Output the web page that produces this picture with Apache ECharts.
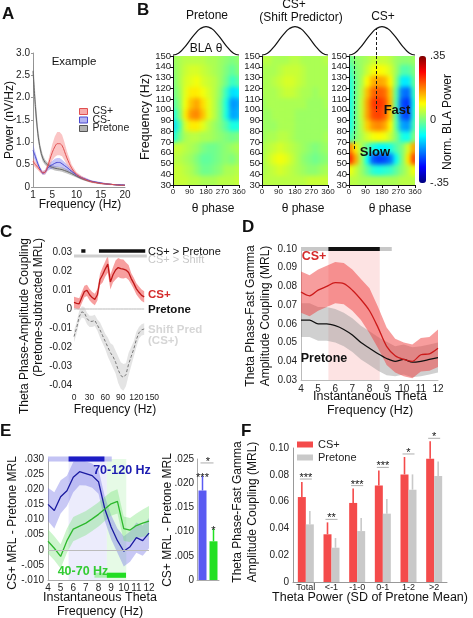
<!DOCTYPE html>
<html><head><meta charset="utf-8">
<script src="https://cdn.jsdelivr.net/npm/echarts@6.0.0/dist/echarts.min.js"></script>
<style>html,body{margin:0;padding:0;background:#fff;}
#wrap{position:relative;width:473px;height:618px;}
#heat,#chart{position:absolute;left:0;top:0;width:473px;height:618px;}
#heat{z-index:0;} #chart{z-index:1;}
.clip{position:absolute;overflow:hidden;}
.blur{position:absolute;}
</style>
</head><body><div id="wrap"><div id="heat"></div><div id="chart"></div></div>
<script>
const FONT = "'Liberation Sans', Arial, sans-serif";

// ---------------- Panel A: power spectra ----------------
const aFreq       = [1,1.5,2,2.5,3,3.5,4,4.5,5,5.5,6,6.5,7,7.5,8,9,10,11,12,13,14,15,16,17,18,19,20];
const aCSplus     = [0.58,0.50,0.44,0.37,0.32,0.33,0.45,0.62,0.78,0.90,0.97,0.97,0.93,0.80,0.65,0.42,0.28,0.21,0.16,0.12,0.10,0.08,0.07,0.06,0.05,0.04,0.04];
const aCSplusErr  = [0.08,0.07,0.06,0.05,0.04,0.05,0.08,0.13,0.18,0.23,0.26,0.26,0.24,0.20,0.15,0.08,0.05,0.04,0.03,0.03,0.02,0.02,0.02,0.02,0.01,0.01,0.01];
const aCSminus    = [0.82,0.68,0.52,0.40,0.31,0.33,0.42,0.47,0.50,0.53,0.55,0.55,0.52,0.48,0.44,0.35,0.27,0.21,0.17,0.13,0.11,0.09,0.07,0.06,0.05,0.05,0.04];
const aCSminusErr = [0.15,0.10,0.07,0.05,0.04,0.05,0.06,0.08,0.09,0.10,0.10,0.10,0.09,0.08,0.07,0.05,0.04,0.03,0.03,0.02,0.02,0.02,0.02,0.01,0.01,0.01,0.01];
const aPretone    = [2.60,1.80,1.20,0.85,0.65,0.55,0.50,0.46,0.44,0.42,0.41,0.40,0.39,0.37,0.35,0.30,0.24,0.19,0.15,0.12,0.10,0.08,0.07,0.06,0.05,0.04,0.04];
const aPretoneErr = [0.30,0.25,0.15,0.10,0.08,0.06,0.05,0.05,0.05,0.05,0.05,0.05,0.05,0.05,0.05,0.04,0.03,0.03,0.02,0.02,0.02,0.02,0.01,0.01,0.01,0.01,0.01];
const aXTicks     = [1,5,10,15,20];

// ---------------- Panel B: phase x frequency maps ----------------
const bPhaseBins = [15,45,75,105,135,165,195,225,255,285,315,345];
const bFreqRows  = [145,135,125,115,105,95,85,75,65,55,45,35]; // top to bottom
const bPretoneMap = [
  [0.02,0.03,0.04,0.04,0.04,0.04,0.03,0.03,0.02,0.01,0.00,0.01],
  [0.01,0.03,0.05,0.06,0.06,0.05,0.04,0.03,0.02,0.00,-0.02,0.00],
  [0.00,0.03,0.06,0.07,0.08,0.06,0.05,0.04,0.02,-0.01,-0.05,-0.03],
  [-0.01,0.02,0.07,0.10,0.10,0.08,0.06,0.04,0.01,-0.05,-0.11,-0.10],
  [-0.03,0.01,0.08,0.13,0.15,0.11,0.07,0.04,0.00,-0.07,-0.16,-0.15],
  [-0.07,0.00,0.10,0.16,0.17,0.13,0.07,0.04,0.00,-0.07,-0.15,-0.14],
  [-0.11,-0.04,0.06,0.10,0.10,0.07,0.04,0.02,0.00,-0.03,-0.07,-0.07],
  [-0.07,-0.01,0.03,0.04,0.04,0.03,0.03,0.02,0.01,0.00,-0.01,0.00],
  [0.05,0.05,0.04,0.03,0.02,0.00,-0.01,-0.01,0.00,0.01,0.02,0.03],
  [0.04,0.04,0.03,0.02,0.00,-0.02,-0.02,-0.01,0.00,0.01,0.00,0.02],
  [0.05,0.05,0.04,0.03,0.01,-0.01,-0.01,0.00,0.01,0.03,0.03,0.04],
  [0.05,0.05,0.05,0.04,0.04,0.03,0.03,0.03,0.04,0.04,0.04,0.05]
];
const bShiftMap = [
  [0.04,0.04,0.03,0.03,0.03,0.04,0.04,0.03,0.03,0.03,0.03,0.04],
  [0.03,0.03,0.03,0.04,0.05,0.05,0.05,0.04,0.03,0.03,0.03,0.03],
  [0.03,0.03,0.04,0.05,0.06,0.06,0.05,0.04,0.03,0.03,0.03,0.03],
  [0.03,0.03,0.03,0.04,0.05,0.05,0.04,0.03,0.03,0.02,0.03,0.03],
  [0.02,0.03,0.03,0.03,0.03,0.03,0.03,0.03,0.02,0.02,0.02,0.03],
  [0.02,0.02,0.03,0.03,0.03,0.03,0.02,0.02,0.02,0.02,0.02,0.02],
  [0.02,0.02,0.02,0.03,0.03,0.03,0.02,0.02,0.02,0.02,0.02,0.02],
  [0.02,0.03,0.03,0.04,0.04,0.03,0.02,0.02,0.02,0.02,0.02,0.03],
  [0.03,0.04,0.05,0.06,0.05,0.04,0.03,0.02,0.01,0.00,0.01,0.02],
  [0.03,0.05,0.07,0.08,0.07,0.05,0.03,0.01,0.00,-0.01,0.00,0.01],
  [0.03,0.04,0.05,0.06,0.05,0.04,0.03,0.02,0.01,0.01,0.02,0.03],
  [0.04,0.04,0.04,0.04,0.04,0.04,0.04,0.04,0.05,0.05,0.05,0.05]
];
const bCSplusMap = [
  [-0.02,0.01,0.02,0.03,0.05,0.05,0.05,0.04,0.02,0.01,0.01,0.02],
  [-0.05,0.00,0.02,0.05,0.08,0.09,0.08,0.06,0.02,-0.03,-0.03,0.00],
  [-0.07,-0.01,0.03,0.09,0.14,0.15,0.14,0.09,0.00,-0.10,-0.10,-0.02],
  [-0.08,-0.01,0.04,0.13,0.19,0.20,0.19,0.12,-0.03,-0.18,-0.19,-0.05],
  [-0.08,-0.01,0.05,0.15,0.22,0.23,0.21,0.13,-0.04,-0.21,-0.23,-0.07],
  [-0.08,-0.01,0.05,0.15,0.21,0.22,0.20,0.12,-0.04,-0.20,-0.22,-0.06],
  [-0.08,-0.01,0.04,0.12,0.16,0.17,0.15,0.09,-0.03,-0.15,-0.16,-0.04],
  [-0.05,0.00,0.03,0.06,0.08,0.09,0.08,0.05,0.00,-0.07,-0.08,0.00],
  [0.18,0.10,0.03,-0.02,-0.07,-0.09,-0.09,-0.07,-0.03,0.00,0.06,0.15],
  [0.24,0.15,0.03,-0.08,-0.20,-0.22,-0.21,-0.18,-0.08,0.00,0.10,0.22],
  [0.08,0.05,0.02,-0.02,-0.06,-0.07,-0.06,-0.05,-0.02,0.01,0.04,0.08],
  [0.04,0.04,0.03,0.03,0.03,0.03,0.03,0.03,0.03,0.04,0.04,0.04]
];
const bThetaPhase = [0,30,60,90,120,150,180,210,240,270,300,330,360];
const bThetaWave  = [-1,-0.87,-0.5,0,0.5,0.87,1,0.87,0.5,0,-0.5,-0.87,-1];
const bDashPhase   = [30,150];
const bDashEndFreq = [62,98];
const cbTicks = [-0.35,0,0.35];

// ---------------- Panel C ----------------
const cFreq      = [0,5,10,15,20,25,30,35,40,45,50,55,60,65,70,75,80,85,90,95,100,105,110,115,120,125,130,135];
const cCSplus    = [0.0035,0.0030,0.0027,0.0060,0.0092,0.0098,0.0075,0.0060,0.0050,0.0075,0.0155,0.0180,0.0210,0.0236,0.0142,0.0180,0.0205,0.0218,0.0212,0.0210,0.0205,0.0192,0.0160,0.0135,0.0106,0.0088,0.0072,0.0064];
const cCSplusErr = [0.003,0.003,0.003,0.003,0.003,0.003,0.003,0.003,0.003,0.003,0.003,0.004,0.004,0.0045,0.004,0.004,0.005,0.005,0.005,0.005,0.004,0.004,0.003,0.003,0.003,0.003,0.003,0.003];
const cShift     = [-0.0145,-0.0100,-0.0040,-0.0015,-0.0020,-0.0050,-0.0065,-0.0065,-0.0060,-0.0085,-0.0110,-0.0140,-0.0170,-0.0200,-0.0230,-0.0250,-0.0280,-0.0320,-0.0350,-0.0360,-0.0345,-0.0290,-0.0250,-0.0210,-0.0160,-0.0125,-0.0110,-0.0105];
const cShiftErr  = [0.003,0.003,0.003,0.003,0.003,0.003,0.003,0.003,0.003,0.003,0.004,0.004,0.004,0.005,0.005,0.006,0.006,0.007,0.007,0.007,0.006,0.006,0.005,0.004,0.004,0.003,0.003,0.003];
const cPretone   = [0,0,0,0,0,0,0,0,0,0,0,0,0,0,0,0,0,0,0,0,0,0,0,0,0,0,0,0];
const cSigPretone = [[14,22],[48,137]];
const cSigShift   = [[0,140]];
const cXTicks = [0,30,60,90,120,150];
const cYTicks = [-0.04,-0.03,-0.02,-0.01,0,0.01,0.02,0.03];

// ---------------- Panel D ----------------
const dFreq       = [4,4.5,5,5.5,6,6.5,7,7.5,8,8.5,9,9.5,10,10.5,11,11.5,12];
const dCSplus     = [0.077,0.075,0.078,0.080,0.082,0.0815,0.078,0.073,0.067,0.058,0.048,0.043,0.041,0.040,0.0435,0.044,0.047];
const dCSplusErr  = [0.011,0.011,0.011,0.011,0.011,0.011,0.011,0.011,0.012,0.011,0.010,0.009,0.009,0.009,0.009,0.009,0.010];
const dPretone    = [0.062,0.062,0.060,0.060,0.059,0.057,0.054,0.050,0.047,0.044,0.0415,0.040,0.041,0.0395,0.040,0.041,0.042];
const dPretoneErr = [0.009,0.009,0.009,0.009,0.009,0.009,0.009,0.009,0.009,0.009,0.009,0.008,0.008,0.008,0.008,0.008,0.008];
const dSigWeak   = [[4,9.3]];
const dSigStrong = [[5.6,8.6]];
const dYTicks = [0.03,0.04,0.05,0.06,0.07,0.08,0.09,0.10];

// ---------------- Panel E ----------------
const eFreq      = [4,4.5,5,5.5,6,6.5,7,7.5,8,8.5,9,9.5,10,10.5,11,11.5,12];
const eFast      = [0.0150,0.0130,0.0175,0.0195,0.0240,0.0258,0.0252,0.0245,0.0225,0.0135,0.0075,0.0030,-0.0005,0.0010,0.0040,0.0030,0.0055];
const eFastErr   = [0.0055,0.006,0.0055,0.005,0.005,0.0045,0.004,0.004,0.004,0.004,0.004,0.004,0.005,0.005,0.005,0.005,0.005];
const eSlow      = [0.0028,0.0005,-0.0022,0.0030,0.0068,0.0078,0.0088,0.0102,0.0117,0.0135,0.0152,0.0160,0.0070,0.0065,0.0080,0.0088,0.0095];
const eSlowErr   = [0.004,0.004,0.004,0.004,0.004,0.004,0.004,0.004,0.004,0.004,0.004,0.004,0.004,0.004,0.004,0.0045,0.005];
const eFastSigWeak   = [[4,9.05]];
const eFastSigStrong = [[5.63,8.47]];
const eSlowSigWeak   = [[7.68,10.18]];
const eSlowSigStrong = [[8.66,10.18]];
const eFastRegion = [5.63,8.66];
const eSlowRegion = [8.66,10.2];
const eYTicks = [-0.01,-0.005,0,0.005,0.01,0.015,0.02,0.025,0.03];
const eBarCats   = ['70-120 Hz','40-70 Hz'];
const eBarVals   = [0.0185,0.0080];
const eBarErrTop = [0.0215,0.0106];
const eBarStars  = ['***','*'];
const eBarYTicks = [0,0.005,0.01,0.015,0.02,0.025];

// ---------------- Panel F ----------------
const fCats          = ['Total','<-1','-1-0','0-1','1-2','>2'];
const fCSplus        = [0.0634,0.0356,0.0590,0.0721,0.0803,0.0920];
const fCSplusErrTop  = [0.0746,0.0445,0.0697,0.0833,0.0933,0.1050];
const fPretone       = [0.0430,0.0256,0.0380,0.0510,0.0689,0.0791];
const fPretoneErrTop = [0.0530,0.0328,0.0478,0.0620,0.0803,0.0900];
const fStars         = ['***','**','***','***','*','*'];
const fYTicks = [0,0.02,0.04,0.06,0.08,0.10];

// ================= build =================
const JET = ['#00007f','#0000ff','#007fff','#00ffff','#7fff7f','#ffff00','#ff7f00','#ff0000','#7f0000'];
const fmtDot = (v,d) => v===0 ? '0' : (v<0?'-':'') + Math.abs(v).toFixed(d).replace(/^0/,'');
const lbl = (size, extra) => Object.assign({fontSize:size, color:'#222', fontFamily:FONT}, extra||{});
const noSplit = {show:false};

const grid = [
  {left:33, top:53, width:92, height:134},
  {left:173, top:56, width:66, height:129},
  {left:262, top:56, width:66, height:129},
  {left:349, top:56, width:66, height:129},
  {left:173, top:26, width:66, height:29},
  {left:262, top:26, width:66, height:29},
  {left:349, top:26, width:66, height:29},
  {left:419, top:56, width:7, height:127},
  {left:74, top:246.3, width:78, height:146.3},
  {left:301, top:249, width:137, height:131},
  {left:48, top:459, width:101, height:121},
  {left:197, top:459, width:22, height:121},
  {left:293, top:448, width:154, height:134}
].map(g => Object.assign(g, {outerBoundsMode:'none'}));

// ---- heat maps: cells drawn by ECharts heatmaps, softened with a CSS blur ----
const PAD = 8, EXT = 2;
[bPretoneMap, bShiftMap, bCSplusMap].forEach((rows,k) => {
  const g = grid[1+k];
  const clip = document.createElement('div');
  clip.className = 'clip';
  Object.assign(clip.style, {left:g.left+'px', top:g.top+'px', width:g.width+'px', height:g.height+'px', background:'#a9f46c'});
  const inner = document.createElement('div');
  inner.className = 'blur';
  Object.assign(inner.style, {left:(-PAD)+'px', top:(-PAD)+'px', width:(g.width+2*PAD)+'px', height:(g.height+2*PAD)+'px', filter:'blur(2.3px)'});
  clip.appendChild(inner);
  document.getElementById('heat').appendChild(clip);
  const data = [];
  rows.forEach((row,r) => row.forEach((v,c) => data.push([c, r, v])));
  const hc = echarts.init(inner);
  hc.setOption({animation:false,
    grid:{left:PAD-EXT, top:PAD-EXT, width:g.width+2*EXT, height:g.height+2*EXT, outerBoundsMode:'none'},
    xAxis:{type:'category', data:bPhaseBins.map(String), show:false},
    yAxis:{type:'category', data:bFreqRows.map(String), inverse:true, show:false},
    visualMap:{show:false, min:-0.35, max:0.35, dimension:2, inRange:{color:JET}},
    series:[{type:'heatmap', data:data, silent:true, itemStyle:{borderWidth:0}}]});
});

const xAxis = [], yAxis = [];
const axLine = (c) => ({show:true, onZero:false, lineStyle:{color:c, width:1}});
// 0: A
xAxis.push({gridIndex:0, type:'value', min:1, max:20, axisLine:axLine('#999'), axisTick:{show:false}, splitLine:noSplit, axisLabel:lbl(10,{customValues:aXTicks, margin:3})});
yAxis.push({gridIndex:0, type:'value', min:0, max:3, interval:0.5, axisLine:axLine('#999'), axisTick:{show:true,length:2,lineStyle:{color:'#999'}}, splitLine:noSplit, axisLabel:lbl(10,{margin:3, formatter:v=>v===0?'0':v.toFixed(1)})});
// 1..6: maps (category + value for each)
for (let k=0;k<3;k++){
  xAxis.push({gridIndex:1+k, type:'category', data:bPhaseBins.map(String), position:'top', show:false});
  xAxis.push({gridIndex:1+k, type:'value', min:0, max:360, interval:90, position:'bottom', axisLine:axLine('#111'), axisTick:{show:true,length:3,lineStyle:{color:'#111'}}, splitLine:noSplit, axisLabel:lbl(8,{margin:3})});
  yAxis.push({gridIndex:1+k, type:'category', data:bFreqRows.map(String), inverse:true, position:'right', show:false});
  yAxis.push({gridIndex:1+k, type:'value', min:30, max:150, interval:10, position:'left', axisLine:axLine('#111'), axisTick:{show:true,length:3,lineStyle:{color:'#111'}}, splitLine:noSplit, axisLabel:lbl(9.5,{margin:2})});
}
// 7..9: theta waves
for (let k=0;k<3;k++){
  xAxis.push({gridIndex:4+k, type:'value', min:0, max:360, show:false});
  yAxis.push({gridIndex:4+k, type:'value', min:-1, max:1.05, show:false});
}
// 10: colorbar labels
xAxis.push({gridIndex:7, type:'value', min:0, max:1, show:false});
yAxis.push({gridIndex:7, type:'value', min:-0.35, max:0.35, position:'right', axisLine:{show:false}, axisTick:{show:false}, splitLine:noSplit, axisLabel:lbl(11,{customValues:cbTicks, margin:4, formatter:v=>fmtDot(v,2)})});
// 11: C
xAxis.push({gridIndex:8, type:'value', min:0, max:150, axisLine:{show:false,onZero:false}, axisTick:{show:false}, splitLine:noSplit, axisLabel:lbl(8.5,{customValues:cXTicks, margin:1, showMaxLabel:true, showMinLabel:true, hideOverlap:false})});
yAxis.push({gridIndex:8, type:'value', min:-0.044, max:0.033, axisLine:{show:false}, axisTick:{show:false}, splitLine:noSplit, axisLabel:lbl(10,{customValues:cYTicks, margin:2, formatter:v=>v===0?'0':v.toFixed(2)})});
// 12: D
xAxis.push({gridIndex:9, type:'value', min:4, max:12, interval:1, axisLine:axLine('#bbb'), axisTick:{show:false}, splitLine:noSplit, axisLabel:lbl(10,{margin:4})});
yAxis.push({gridIndex:9, type:'value', min:0.03, max:0.10, axisLine:axLine('#bbb'), axisTick:{show:false}, splitLine:noSplit, axisLabel:lbl(10,{customValues:dYTicks, margin:4, formatter:v=>v.toFixed(2)})});
// 13: E
xAxis.push({gridIndex:10, type:'value', min:4, max:12, interval:1, axisLine:axLine('#aaa'), axisTick:{show:false}, splitLine:noSplit, axisLabel:lbl(10,{margin:3})});
yAxis.push({gridIndex:10, type:'value', min:-0.01, max:0.03, axisLine:axLine('#aaa'), axisTick:{show:false}, splitLine:noSplit, axisLabel:lbl(10,{customValues:eYTicks, margin:4, formatter:v=>fmtDot(v,3)})});
// 14: E bars
xAxis.push({gridIndex:11, type:'category', data:eBarCats, axisLine:axLine('#aaa'), axisTick:{show:false}, axisLabel:{show:false}});
yAxis.push({gridIndex:11, type:'value', min:0, max:0.025, axisLine:axLine('#aaa'), axisTick:{show:false}, splitLine:noSplit, axisLabel:lbl(10,{customValues:eBarYTicks, margin:3, formatter:v=>fmtDot(v,3)})});
// 15: F
xAxis.push({gridIndex:12, type:'category', data:fCats, axisLine:axLine('#999'), axisTick:{show:false}, axisLabel:lbl(9,{margin:1, interval:0})});
yAxis.push({gridIndex:12, type:'value', min:0, max:0.1, axisLine:axLine('#999'), axisTick:{show:false}, splitLine:noSplit, axisLabel:lbl(10,{customValues:fYTicks, margin:4, formatter:v=>v===0?'0':v.toFixed(2)})});

const S = [];
const add = s => { S.push(s); return S.length-1; };
function band(ax, xs, mean, err, fill, z){
  return {type:'custom', xAxisIndex:ax, yAxisIndex:ax, silent:true, clip:true, z:z||2, data:[[xs[0], mean[0]]],
    renderItem(p, api){
      const up = xs.map((x,i)=>api.coord([x, mean[i]+err[i]]));
      const lo = xs.map((x,i)=>api.coord([x, mean[i]-err[i]])).reverse();
      return {type:'polygon', shape:{points:up.concat(lo)}, style:{fill:fill}};
    }};
}
function line(ax, xs, ys, color, width, extra){
  return Object.assign({type:'line', xAxisIndex:ax, yAxisIndex:ax, data:xs.map((x,i)=>[x, ys[i]]), symbol:'none', showSymbol:false, silent:true, z:3,
    lineStyle:{color:color, width:width}, itemStyle:{color:color}}, extra||{});
}
function sigBars(ax, ranges, level, color, width){
  ranges.forEach(r => add({type:'line', xAxisIndex:ax, yAxisIndex:ax, data:[[r[0],level],[r[1],level]], symbol:'none', silent:true, clip:false, z:6,
    lineStyle:{color:color, width:width, cap:'butt'}}));
}

// ---- A ----
add(band(0, aFreq, aPretone, aPretoneErr, 'rgba(120,120,120,0.45)'));
add(band(0, aFreq, aCSminus, aCSminusErr, 'rgba(110,110,235,0.40)'));
add(band(0, aFreq, aCSplus, aCSplusErr, 'rgba(245,110,110,0.40)'));
add(line(0, aFreq, aPretone, '#666', 1, {name:'Pretone', smooth:0.3}));
add(line(0, aFreq, aCSminus, '#4a4ad0', 1, {name:'CS-', smooth:0.3}));
add(line(0, aFreq, aCSplus, '#e05050', 1, {name:'CS+', smooth:0.3}));

// ---- B: theta waves and dashed markers ----
for (let k=0;k<3;k++) add(line(7+k, bThetaPhase, bThetaWave, '#111', 1.2, {smooth:0.5, clip:false}));
bDashPhase.forEach((ph,i) => add({type:'line', xAxisIndex:6, yAxisIndex:6, data:[[ph,150],[ph,bDashEndFreq[i]]], symbol:'none', silent:true, z:5,
  lineStyle:{color:'#1a1a1a', width:1, type:[3,2]}}));
add({type:'line', xAxisIndex:9, yAxisIndex:9, data:[[bDashPhase[1],-1],[bDashPhase[1], bThetaWave[bThetaPhase.indexOf(bDashPhase[1])]]], symbol:'none', silent:true, z:5,
  lineStyle:{color:'#1a1a1a', width:1, type:[3,2]}});

// ---- C ----
add(band(11, cFreq, cShift, cShiftErr, 'rgba(205,205,205,0.55)'));
add(band(11, cFreq, cCSplus, cCSplusErr, 'rgba(240,80,80,0.55)'));
add(line(11, cFreq, cPretone, '#bbb', 1));
add(line(11, cFreq, cShift, '#777', 1, {lineStyle:{color:'#777', width:1, type:[3,2]}}));
add(line(11, cFreq, cCSplus, '#c01818', 1.3));
sigBars(11, cSigShift, 0.0279, '#cfcfcf', 3);
sigBars(11, cSigPretone, 0.0305, '#111', 3.5);

// ---- D ----
add(band(12, dFreq, dPretone, dPretoneErr, 'rgba(150,150,150,0.45)'));
add(band(12, dFreq, dCSplus, dCSplusErr, 'rgba(240,60,60,0.50)'));
add(line(12, dFreq, dPretone, '#111', 1.3, {smooth:0.3}));
add(line(12, dFreq, dCSplus, '#cc1a1a', 1.3, {smooth:0.3,
  markArea:{silent:true, z:1, itemStyle:{color:'rgba(250,175,175,0.35)'}, data:[[{xAxis:dSigStrong[0][0]},{xAxis:dSigStrong[0][1]}]]}}));
sigBars(12, dSigWeak, 0.10, '#c8c8c8', 4);
sigBars(12, dSigStrong, 0.10, '#111', 4);

// ---- E ----
add(band(13, eFreq, eFast, eFastErr, 'rgba(110,110,230,0.38)'));
add(band(13, eFreq, eSlow, eSlowErr, 'rgba(110,225,110,0.35)'));
add(line(13, eFreq, eFast, '#1a1aa0', 1.3, {
  markArea:{silent:true, z:1, data:[
    [{xAxis:eFastRegion[0], itemStyle:{color:'rgba(200,200,245,0.35)'}},{xAxis:eFastRegion[1]}],
    [{xAxis:eSlowRegion[0], itemStyle:{color:'rgba(200,245,200,0.45)'}},{xAxis:eSlowRegion[1]}]]}}));
add(line(13, eFreq, eSlow, '#2db82d', 1.3, {
  markLine:{silent:true, symbol:['none','none'], label:{show:false}, lineStyle:{color:'#bbb', type:'solid', width:1}, data:[{yAxis:0}]}}));
sigBars(13, eFastSigWeak, 0.03, 'rgba(170,170,240,0.7)', 5);
sigBars(13, eFastSigStrong, 0.03, '#1c1cc4', 5);
sigBars(13, eSlowSigWeak, -0.0084, 'rgba(150,240,150,0.8)', 5);
sigBars(13, eSlowSigStrong, -0.0084, '#22dd22', 5);

// ---- E bars ----
const eBarColors = ['#5a5af2','#22e022'];
add({type:'bar', xAxisIndex:14, yAxisIndex:14, barWidth:8, silent:true, z:3,
  data:eBarVals.map((v,i)=>({value:v, itemStyle:{color:eBarColors[i]}}))});
add({type:'custom', xAxisIndex:14, yAxisIndex:14, clip:false, silent:true, z:4,
  data:eBarVals.map((v,i)=>[i, v, eBarErrTop[i]]), encode:{x:0, y:[1,2]},
  renderItem(p, api){
    const a = api.coord([api.value(0), api.value(1)]), b = api.coord([api.value(0), api.value(2)]);
    return {type:'group', children:[
      {type:'line', shape:{x1:a[0], y1:a[1], x2:b[0], y2:b[1]}, style:{stroke:eBarColors[p.dataIndex], lineWidth:1.5}},
      {type:'text', x:b[0], y:b[1]+2, style:{text:eBarStars[p.dataIndex], align:'center', verticalAlign:'middle', fontSize:11, fontFamily:FONT, fill:'#111'}}]};
  }});
add({type:'custom', xAxisIndex:14, yAxisIndex:14, clip:false, silent:true, z:4,
  data:[[0, Math.max.apply(null, eBarErrTop)]], encode:{x:0, y:1},
  renderItem(p, api){
    const a = api.coord([0, api.value(1)]), b = api.coord([1, api.value(1)]);
    const y = a[1]-13;
    return {type:'group', children:[
      {type:'line', shape:{x1:a[0]-2, y1:y, x2:b[0], y2:y}, style:{stroke:'#999', lineWidth:0.8}},
      {type:'text', x:(a[0]+b[0])/2, y:y-1, style:{text:'*', align:'center', verticalAlign:'middle', fontSize:11, fontFamily:FONT, fill:'#111'}}]};
  }});

// ---- F ----
add({type:'bar', name:'CS+', xAxisIndex:15, yAxisIndex:15, data:fCSplus, barWidth:8, barGap:'0%', silent:true, z:3, itemStyle:{color:'#f44b4b'}});
add({type:'bar', name:'Pretone', xAxisIndex:15, yAxisIndex:15, data:fPretone, barWidth:8, barGap:'0%', silent:true, z:3, itemStyle:{color:'#c9c9c9'}});
function fErr(vals, tops, color, dx){
  return {type:'custom', xAxisIndex:15, yAxisIndex:15, clip:false, silent:true, z:4,
    data:vals.map((v,i)=>[i, v, tops[i]]), encode:{x:0, y:[1,2]},
    renderItem(p, api){
      const a = api.coord([api.value(0), api.value(1)]), b = api.coord([api.value(0), api.value(2)]);
      return {type:'line', shape:{x1:a[0]+dx, y1:a[1], x2:b[0]+dx, y2:b[1]}, style:{stroke:color, lineWidth:1.6}};
    }};
}
add(fErr(fCSplus, fCSplusErrTop, '#f44b4b', -4));
add(fErr(fPretone, fPretoneErrTop, '#c9c9c9', 4));
add({type:'custom', xAxisIndex:15, yAxisIndex:15, clip:false, silent:true, z:4,
  data:fCSplusErrTop.map((t,i)=>[i, t]), encode:{x:0, y:1},
  renderItem(p, api){
    const c = api.coord([api.value(0), api.value(1)]); const y = c[1]-3;
    return {type:'group', children:[
      {type:'line', shape:{x1:c[0]-6, y1:y, x2:c[0]+6, y2:y}, style:{stroke:'#999', lineWidth:0.8}},
      {type:'text', x:c[0], y:y-1, style:{text:fStars[p.dataIndex], align:'center', verticalAlign:'middle', fontSize:11, fontFamily:FONT, fill:'#111'}}]};
  }});

// ---- texts ----
function txt(text, x, y, o){
  o = o||{};
  return {type:'text', x:x, y:y, rotation:o.rot||0, z:100, silent:true,
    style:{text:text, fill:o.color||'#111', fontSize:o.size||12, fontWeight:o.bold?'bold':'normal', fontFamily:FONT,
      align:o.align||'center', verticalAlign:'middle'}};
}
const R = Math.PI/2;
const G = [
  txt('A', 2, 14, {size:17, bold:true, align:'left'}),
  txt('B', 137, 10, {size:17, bold:true, align:'left'}),
  txt('C', 0, 232, {size:17, bold:true, align:'left'}),
  txt('D', 242, 227, {size:17, bold:true, align:'left'}),
  txt('E', 0, 431, {size:17, bold:true, align:'left'}),
  txt('F', 241, 431, {size:17, bold:true, align:'left'}),
  txt('Example', 74, 62, {size:11.5}),
  txt('Power (nV/Hz)', 10, 120, {rot:R}),
  txt('Frequency (Hz)', 80, 205),
  txt('Pretone', 207, 16),
  txt('CS+', 294, 5),
  txt('(Shift Predictor)', 301, 17.5),
  txt('CS+', 383, 16.5),
  txt('BLA θ', 206, 49),
  txt('Frequency (Hz)', 146, 117, {rot:R, size:12.5}),
  txt('θ phase', 213, 209), txt('θ phase', 303, 209), txt('θ phase', 390, 209),
  txt('Fast', 397, 110, {bold:true, size:13}),
  txt('Slow', 375, 152, {bold:true, size:13}),
  txt('Norm. BLA Power', 448, 122, {rot:R}),
  // C
  txt('Theta Phase-Amplitude Coupling', 25, 238, {rot:R, align:'right'}),
  txt('(Pretone-subtracted MRL)', 39, 238, {rot:R, align:'right'}),
  txt('Frequency (Hz)', 115, 410),
  txt('CS+ > Pretone', 148, 251.5, {size:11, align:'left'}),
  txt('CS+ > Shift', 148, 260, {size:11, align:'left', color:'#c8c8c8'}),
  txt('CS+', 148, 295, {size:11.5, bold:true, align:'left', color:'#d42a2a'}),
  txt('Pretone', 148, 309.5, {size:11.5, bold:true, align:'left'}),
  txt('Shift Pred', 148, 329.5, {size:11.5, bold:true, align:'left', color:'#d6d6d6'}),
  txt('(CS+)', 148, 340.5, {size:11.5, bold:true, align:'left', color:'#d6d6d6'}),
  // D
  txt('Theta Phase-Fast Gamma', 251, 316, {rot:R}),
  txt('Amplitude Coupling (MRL)', 266, 316, {rot:R}),
  txt('Instantaneous Theta', 370, 397, {size:12.5}),
  txt('Frequency (Hz)', 370, 411, {size:12.5}),
  txt('CS+', 314, 257, {size:12.5, bold:true, color:'#d42a2a'}),
  txt('Pretone', 324, 359, {size:12.5, bold:true}),
  // E
  txt('CS+ MRL - Pretone MRL', 13, 523, {rot:R}),
  txt('CS+ MRL - Pretone MRL', 168, 520, {rot:R}),
  txt('Instantaneous Theta', 100, 598, {size:12.5}),
  txt('Frequency (Hz)', 100, 612, {size:12.5}),
  txt('70-120 Hz', 122, 471, {size:12.5, bold:true, color:'#1c1cb0'}),
  txt('40-70 Hz', 83, 572, {size:12.5, bold:true, color:'#33cc33'}),
  // F
  txt('Theta Phase-Fast Gamma', 238, 512, {rot:R}),
  txt('Amplitude Coupling (MRL)', 253, 512, {rot:R}),
  txt('Theta Power (SD of Pretone Mean)', 370, 598, {size:12.5})
];

const option = {
  animation:false,
  backgroundColor:'transparent',
  textStyle:{fontFamily:FONT},
  grid:grid, xAxis:xAxis, yAxis:yAxis, series:S,
  visualMap:[{type:'continuous', seriesIndex:[], dimension:2, min:-0.35, max:0.35, inRange:{color:JET},
    left:419, top:56, itemWidth:7, itemHeight:127, calculable:false, padding:0, show:true, text:null}],
  legend:[
    {left:79, top:106, padding:0, orient:'vertical', icon:'rect', itemWidth:8, itemHeight:6, itemGap:-2.5, selectedMode:false,
      textStyle:{fontSize:10.5, fontFamily:FONT, color:'#222', lineHeight:9},
      data:[{name:'CS+', itemStyle:{color:'rgba(245,150,150,0.8)', borderColor:'#e05050', borderWidth:1}},
            {name:'CS-', itemStyle:{color:'rgba(160,160,240,0.8)', borderColor:'#4a4ad0', borderWidth:1}},
            {name:'Pretone', itemStyle:{color:'rgba(170,170,170,0.9)', borderColor:'#555', borderWidth:1}}]},
    {left:297, top:439, padding:0, orient:'vertical', icon:'rect', itemWidth:16, itemHeight:6, itemGap:2, selectedMode:false,
      textStyle:{fontSize:11, fontFamily:FONT, color:'#222', lineHeight:11},
      data:[{name:'CS+', itemStyle:{color:'#f44b4b'}}, {name:'Pretone', itemStyle:{color:'#c9c9c9'}}]}
  ],
  graphic:{elements:G}
};
const chart = echarts.init(document.getElementById('chart'));
chart.setOption(option);
</script></body></html>
